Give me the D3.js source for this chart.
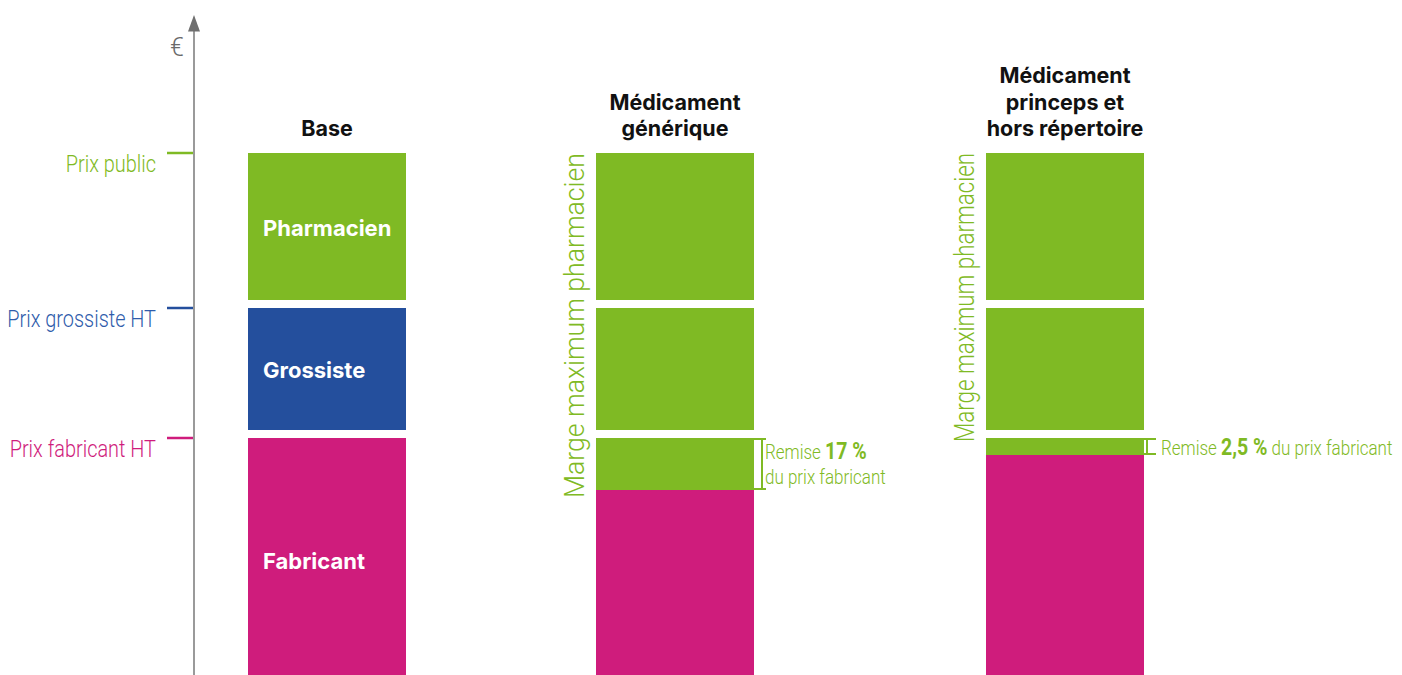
<!DOCTYPE html>
<html>
<head>
<meta charset="utf-8">
<script src="https://cdn.jsdelivr.net/npm/d3@7"></script>
<style>
  body { margin: 0; background: #fff; }
  svg { display: block; }
</style>
</head>
<body>
<div id="chart"></div>
<script>
// price levels, in € units (fabricant, grossiste, public)
var levelNames = ["Prix fabricant HT", "Prix grossiste HT", "Prix public"];
var levelValues = [47.4, 73.4, 104.4];

var columns = ["Base", "Médicament générique", "Médicament princeps et hors répertoire"];
var titleLines = [["Base"], ["Médicament", "générique"], ["Médicament", "princeps et", "hors répertoire"]];
var remiseValues = [0, 10.4, 3.4];
var remiseBold = [null, "17 %", "2,5 %"];
var segmentNames = ["Fabricant", "Grossiste", "Pharmacien"];
var margeLabel = "Marge maximum pharmacien";

var green = "#7fba24", blue = "#244f9d", magenta = "#cf1c7c", axisGrey = "#9a9a9a";
var levelColors = [magenta, blue, green];
var condense = 0.83;

var W = 1402, H = 675;

var svg = d3.select("#chart")
  .append("svg")
  .attr("width", W)
  .attr("height", H);

var y = d3.scaleLinear().domain([0, 132]).range([H, 15]);
var x = d3.scaleOrdinal().domain(columns).range([248, 596, 986]);
var barW = 158, gap = 8;

// axis with arrow
svg.append("line")
  .attr("x1", 194).attr("x2", 194)
  .attr("y1", y(0)).attr("y2", y(129))
  .attr("stroke", axisGrey).attr("stroke-width", 2);
svg.append("path")
  .attr("d", d3.line()([[188, y(128.7)], [194, y(132)], [200, y(128.7)]]) + "Z")
  .attr("fill", "#6f6f6f");
svg.append("text")
  .attr("x", 177).attr("y", 56)
  .attr("text-anchor", "middle")
  .attr("font-family", "Roboto").attr("font-weight", 300)
  .attr("font-size", 25).attr("fill", "#6a6a6a")
  .text("€");

// level ticks + labels
levelValues.forEach(function (v, i) {
  svg.append("line")
    .attr("x1", 167).attr("x2", 193)
    .attr("y1", y(v)).attr("y2", y(v))
    .attr("stroke", levelColors[i]).attr("stroke-width", 2.5);
  svg.append("g")
    .attr("transform", "translate(156," + (y(v) + 19) + ") scale(" + condense + ",1)")
    .append("text")
    .attr("text-anchor", "end")
    .attr("font-family", "Roboto").attr("font-weight", 300)
    .attr("font-size", 24)
    .attr("fill", i === 1 ? "#2f5cab" : levelColors[i])
    .text(levelNames[i]);
});

function segmentsFor(ci) {
  var fab = levelValues[0], gro = levelValues[1], pub = levelValues[2];
  if (ci === 0) {
    return [
      { lo: 0, hi: fab, color: magenta, name: segmentNames[0] },
      { lo: fab, hi: gro, color: blue, name: segmentNames[1] },
      { lo: gro, hi: pub, color: green, name: segmentNames[2] }
    ];
  }
  var r = remiseValues[ci];
  return [
    { lo: 0, hi: fab - r, color: magenta },
    { lo: fab - r, hi: fab, color: green },
    { lo: fab, hi: gro, color: green },
    { lo: gro, hi: pub, color: green }
  ];
}

columns.forEach(function (col, ci) {
  var x0 = x(col);
  var segs = segmentsFor(ci);
  var g = svg.append("g");

  g.selectAll("rect")
    .data(segs)
    .enter()
    .append("rect")
    .attr("x", x0)
    .attr("width", barW)
    .attr("y", function (d) { return y(d.hi); })
    .attr("height", function (d) {
      var g0 = (d.lo === levelValues[0] || d.lo === levelValues[1]) ? gap : 0;
      return y(d.lo) - y(d.hi) - g0;
    })
    .attr("fill", function (d) { return d.color; });

  g.selectAll("text.seg")
    .data(segs.filter(function (d) { return d.name; }))
    .enter()
    .append("text")
    .attr("class", "seg")
    .attr("x", x0 + 15)
    .attr("y", function (d) {
      var g0 = d.lo > 0 ? gap : 0;
      return (y(d.hi) + y(d.lo) - g0) / 2 + 9 + (d.lo === 0 ? 3 : 0);
    })
    .attr("font-family", "Inter").attr("font-weight", 700)
    .attr("font-size", 22).attr("fill", "#fff")
    .text(function (d) { return d.name; });

  // title
  var t = g.append("text")
    .attr("text-anchor", "middle")
    .attr("font-family", "Inter").attr("font-weight", 700)
    .attr("font-size", 21.5).attr("fill", "#111");
  var lines = titleLines[ci];
  lines.forEach(function (l, li) {
    t.append("tspan")
      .attr("x", x0 + barW / 2)
      .attr("y", y(levelValues[2]) - 17 - (lines.length - 1 - li) * 26.5)
      .text(l);
  });

  if (ci === 0) return;

  // rotated margin label
  var r = remiseValues[ci];
  var labStart = ci === 1 ? levelValues[0] - r - 1.6 : levelValues[0] - 0.8;
  var labEnd = levelValues[2];
  g.append("text")
    .attr("transform", "translate(" + (x0 - 12) + "," + y(labStart) + ") rotate(-90)")
    .attr("font-family", "Roboto").attr("font-weight", 300)
    .attr("font-size", 28).attr("fill", green)
    .attr("textLength", y(labStart) - y(labEnd))
    .attr("lengthAdjust", "spacingAndGlyphs")
    .text(margeLabel);

  // remise bracket
  var yTop = y(levelValues[0]), yBot = y(levelValues[0] - r);
  var bx = x0 + barW;
  var vx = ci === 1 ? bx + 8 : bx + 3;
  g.append("path")
    .attr("d", "M" + bx + "," + (yTop + 1) + "H" + (bx + 12) +
      "M" + vx + "," + (yTop + 1) + "V" + (yBot - 1) +
      "M" + bx + "," + (yBot - 1) + "H" + (bx + 12))
    .attr("fill", "none").attr("stroke", green).attr("stroke-width", 2);

  var tx = ci === 1 ? bx + 11 : bx + 17;
  var ty = ci === 1 ? yTop + 21 : yTop + 17;
  var rt = g.append("g")
    .attr("transform", "translate(" + tx + "," + ty + ") scale(" + condense + ",1)")
    .append("text")
    .attr("font-family", "Roboto").attr("font-weight", 300)
    .attr("font-size", 20.5).attr("fill", green);
  rt.append("tspan").text("Remise ");
  rt.append("tspan").attr("font-weight", 700).attr("font-size", 23.5).text(remiseBold[ci]);
  if (ci === 1) {
    rt.append("tspan").attr("x", 0).attr("dy", 25).text("du prix fabricant");
  } else {
    rt.append("tspan").text(" du prix fabricant");
  }
});
</script>
</body>
</html>
